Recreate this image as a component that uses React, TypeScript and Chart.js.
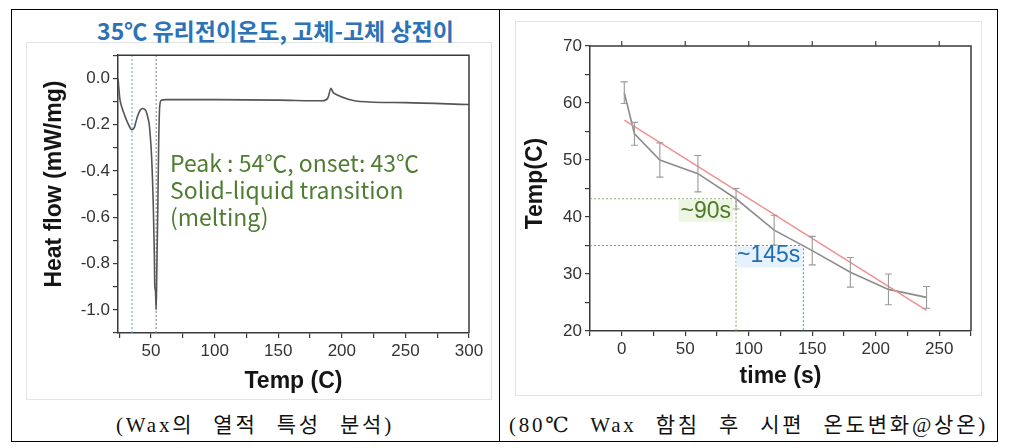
import React, { useEffect, useRef } from 'react';
import { Chart, registerables } from 'chart.js';

Chart.register(...registerables);

// ---------- Left chart: DSC curve ----------
const dscTemp = [24, 25.5, 27, 29, 31, 33, 34.7, 36.8, 38, 39.4, 41.3, 43.4, 45, 46, 47.5, 48.7, 50.5, 51.8, 52.6, 52.9, 53.5, 54, 54.5, 55.3, 56, 56.8, 58, 62, 100, 150, 185, 189, 191.5, 193, 196, 205, 214, 250, 300];
const dscFlow = [0.0, -0.09, -0.125, -0.156, -0.185, -0.208, -0.222, -0.213, -0.19, -0.163, -0.139, -0.13, -0.134, -0.141, -0.17, -0.206, -0.348, -0.56, -0.773, -0.894, -0.92, -1.0, -0.84, -0.56, -0.277, -0.12, -0.095, -0.092, -0.092, -0.094, -0.097, -0.085, -0.043, -0.06, -0.071, -0.09, -0.1, -0.105, -0.113];
const dscGuideTemps = [35, 54];
const dscXRange = [24, 300];
const dscYRange = [-1.1, 0.1];
const dscTitle = '35℃ 유리전이온도, 고체-고체 상전이';
const dscNote = ['Peak : 54℃, onset: 43℃', 'Solid-liquid transition', '(melting)'];
const dscCaption = '(Wax의 열적 특성 분석)';

// ---------- Right chart: cooling curve ----------
const coolTime = [2, 10, 30, 60, 90, 120, 150, 180, 210, 240];
const coolTemp = [61.8, 54.6, 50, 47.6, 43.2, 37.7, 34.1, 30.3, 27.3, 25.9];
const coolErr = [1.9, 2, 3, 3.2, 1.8, 2.6, 2.5, 2.6, 2.7, 1.9];
const fitTime = [2, 240];
const fitTemp = [57.0, 23.6];
const mark90Time = [-25, 90, 90];
const mark90Temp = [43.2, 43.2, 20];
const mark145Time = [-25, 143, 143];
const mark145Temp = [35, 35, 20];
const coolXRange = [-25, 275];
const coolYRange = [20, 70];
const coolTopTicks = [0, 50, 100, 150, 200, 250];
const coolLabels = ['~90s', '~145s'];
const coolCaption = '(80℃ Wax 함침 후 시편 온도변화@상온)';

const SANS = '"Liberation Sans", Arial, sans-serif';
const CJK = '"Noto Sans CJK KR", "Liberation Sans", sans-serif';

function titlesPlugin(id: string, xText: string, yText: string, xCenterY: number, yCenterX: number, yShift: number) {
  return {
    id,
    afterDraw(chart: any) {
      const { ctx, chartArea: a } = chart;
      ctx.save();
      ctx.fillStyle = '#151515';
      ctx.font = `bold 23px ${SANS}`;
      ctx.textAlign = 'center';
      ctx.textBaseline = 'middle';
      ctx.fillText(xText, (a.left + a.right) / 2, xCenterY);
      ctx.translate(yCenterX, (a.top + a.bottom) / 2 + yShift);
      ctx.rotate(-Math.PI / 2);
      ctx.fillText(yText, 0, 0);
      ctx.restore();
    },
  };
}

const framePlugin = {
  id: 'frame',
  afterDraw(chart: any) {
    const { ctx, chartArea: a } = chart;
    ctx.save();
    ctx.strokeStyle = '#3a3a3a';
    ctx.lineWidth = 1.5;
    ctx.beginPath();
    ctx.moveTo(a.left, a.top);
    ctx.lineTo(a.right, a.top);
    ctx.lineTo(a.right, a.bottom);
    ctx.stroke();
    ctx.restore();
  },
};

function axisCommon(extra: any) {
  return {
    type: 'linear',
    border: { display: true, color: '#3a3a3a', width: 1.5 },
    grid: { display: true, drawOnChartArea: false, drawTicks: true, tickLength: 5, color: '#3a3a3a', lineWidth: 1.2 },
    ...extra,
  };
}

function DscChart() {
  const ref = useRef<HTMLCanvasElement>(null);
  useEffect(() => {
    const notePlugin = {
      id: 'note',
      afterDraw(chart: any) {
        const { ctx } = chart;
        ctx.save();
        ctx.fillStyle = '#4f7d32';
        ctx.font = `23px ${CJK}`;
        ctx.textAlign = 'left';
        ctx.textBaseline = 'alphabetic';
        dscNote.forEach((t, i) => ctx.fillText(t, 144, 130 + i * 27));
        ctx.restore();
      },
    };
    const chart = new Chart(ref.current!, {
      type: 'line',
      data: {
        datasets: [
          {
            data: dscTemp.map((t, i) => ({ x: t, y: dscFlow[i] })),
            borderColor: '#555',
            borderWidth: 1.6,
            pointRadius: 0,
            cubicInterpolationMode: 'monotone',
            order: 0,
          },
          {
            data: [{ x: dscGuideTemps[0], y: dscYRange[0] }, { x: dscGuideTemps[0], y: dscYRange[1] }],
            borderColor: '#6ea6dc',
            borderWidth: 1.1,
            borderDash: [2, 2],
            pointRadius: 0,
            order: 1,
          },
          {
            data: [{ x: dscGuideTemps[1], y: dscYRange[0] }, { x: dscGuideTemps[1], y: dscYRange[1] }],
            borderColor: '#8a8a8a',
            borderWidth: 1.1,
            borderDash: [2, 2],
            pointRadius: 0,
            order: 2,
          },
        ],
      },
      options: {
        responsive: false,
        animation: false,
        devicePixelRatio: 1,
        layout: { padding: { left: 0, top: 10, right: 23, bottom: 0 } },
        plugins: { legend: { display: false }, tooltip: { enabled: false } },
        scales: {
          x: axisCommon({
            min: dscXRange[0],
            max: dscXRange[1],
            afterFit: (s: any) => { s.height = 67; },
            ticks: {
              stepSize: 25,
              includeBounds: false,
              autoSkip: false,
              maxRotation: 0,
              padding: 3,
              color: '#333',
              font: { family: SANS, size: 17 },
              callback: (v: any) => (Math.round(v) % 50 === 0 ? String(Math.round(v)) : ''),
            },
          }),
          y: axisCommon({
            min: dscYRange[0],
            max: dscYRange[1],
            afterFit: (s: any) => { s.width = 92; },
            ticks: {
              stepSize: 0.1,
              autoSkip: false,
              padding: 3,
              color: '#333',
              font: { family: SANS, size: 17 },
              callback: (v: any) => {
                const k = Math.round(v * 10);
                return k % 2 === 0 && k <= 0 ? (k / 10).toFixed(1) : '';
              },
            },
          }),
        },
      } as any,
      plugins: [framePlugin, notePlugin, titlesPlugin('dscTitles', 'Temp (C)', 'Heat flow (mW/mg)', 340, 29, -10)] as any,
    });
    return () => chart.destroy();
  }, []);
  return <canvas ref={ref} width={466} height={358} style={{ position: 'absolute', left: 26, top: 42 }} />;
}

function CoolChart() {
  const ref = useRef<HTMLCanvasElement>(null);
  useEffect(() => {
    const extras = {
      id: 'coolExtras',
      afterDatasetsDraw(chart: any) {
        const { ctx, scales } = chart;
        const xs = scales.x, ys = scales.y;
        ctx.save();
        ctx.strokeStyle = '#9a9a9a';
        ctx.lineWidth = 1.1;
        coolTime.forEach((t, i) => {
          const x = xs.getPixelForValue(t);
          const y1 = ys.getPixelForValue(coolTemp[i] + coolErr[i]);
          const y2 = ys.getPixelForValue(coolTemp[i] - coolErr[i]);
          ctx.beginPath();
          ctx.moveTo(x, y1); ctx.lineTo(x, y2);
          ctx.moveTo(x - 3.5, y1); ctx.lineTo(x + 3.5, y1);
          ctx.moveTo(x - 3.5, y2); ctx.lineTo(x + 3.5, y2);
          ctx.stroke();
        });
        ctx.restore();
      },
      afterDraw(chart: any) {
        const { ctx, scales, chartArea: a } = chart;
        const xs = scales.x, ys = scales.y;
        ctx.save();
        ctx.strokeStyle = '#3a3a3a';
        ctx.lineWidth = 1.2;
        ctx.beginPath();
        coolTopTicks.forEach((v) => {
          const x = xs.getPixelForValue(v);
          ctx.moveTo(x, a.top); ctx.lineTo(x, a.top - 5);
        });
        ctx.stroke();
        // labels
        ctx.font = `23px ${SANS}`;
        ctx.textBaseline = 'middle';
        const x90 = xs.getPixelForValue(mark90Time[1]);
        const y90 = ys.getPixelForValue(mark90Temp[0]);
        const w90 = ctx.measureText(coolLabels[0]).width;
        ctx.fillStyle = 'rgba(232,242,218,0.75)';
        ctx.fillRect(x90 - 5 - w90 - 2, y90 + 1, w90 + 4, 22);
        ctx.fillStyle = '#4d7a2b';
        ctx.textAlign = 'right';
        ctx.fillText(coolLabels[0], x90 - 5, y90 + 13);
        const y145 = ys.getPixelForValue(mark145Temp[0]);
        const w145 = ctx.measureText(coolLabels[1]).width;
        ctx.fillStyle = 'rgba(222,238,250,0.75)';
        ctx.fillRect(x90, y145 + 1, w145 + 3, 21);
        ctx.fillStyle = '#1f6db3';
        ctx.textAlign = 'left';
        ctx.fillText(coolLabels[1], x90 + 1, y145 + 10);
        ctx.restore();
      },
    };
    const chart = new Chart(ref.current!, {
      type: 'line',
      data: {
        datasets: [
          {
            data: fitTime.map((t, i) => ({ x: t, y: fitTemp[i] })),
            borderColor: '#f09090',
            borderWidth: 1.5,
            pointRadius: 0,
            order: 0,
          },
          {
            data: coolTime.map((t, i) => ({ x: t, y: coolTemp[i] })),
            borderColor: '#8c8c8c',
            borderWidth: 1.6,
            pointRadius: 0,
            order: 1,
          },
          {
            data: mark90Time.map((t, i) => ({ x: t, y: mark90Temp[i] })),
            borderColor: '#8fae72',
            borderWidth: 1.2,
            borderDash: [2, 2],
            pointRadius: 0,
            order: 2,
          },
          {
            data: mark145Time.map((t, i) => ({ x: t, y: mark145Temp[i] })),
            borderColor: '#5e9fd6',
            borderWidth: 1.2,
            borderDash: [2, 2],
            pointRadius: 0,
            order: 3,
          },
        ],
      },
      options: {
        responsive: false,
        animation: false,
        devicePixelRatio: 1,
        layout: { padding: { left: 0, top: 25, right: 11, bottom: 0 } },
        plugins: { legend: { display: false }, tooltip: { enabled: false } },
        scales: {
          x: axisCommon({
            min: coolXRange[0],
            max: coolXRange[1],
            afterFit: (s: any) => { s.height = 65; },
            ticks: {
              stepSize: 25,
              autoSkip: false,
              maxRotation: 0,
              padding: 3,
              color: '#333',
              font: { family: SANS, size: 17 },
              callback: (v: any) => {
                const r = Math.round(v);
                return r % 50 === 0 && r >= 0 ? String(r) : '';
              },
            },
          }),
          y: axisCommon({
            min: coolYRange[0],
            max: coolYRange[1],
            afterFit: (s: any) => { s.width = 75; },
            ticks: {
              stepSize: 5,
              autoSkip: false,
              padding: 3,
              color: '#333',
              font: { family: SANS, size: 17 },
              callback: (v: any) => (Math.round(v) % 10 === 0 ? String(Math.round(v)) : ''),
            },
          }),
        },
      } as any,
      plugins: [framePlugin, extras, titlesPlugin('coolTitles', 'time (s)', 'Temp(C)', 356, 21, -5)] as any,
    });
    return () => chart.destroy();
  }, []);
  return <canvas ref={ref} width={467} height={375} style={{ position: 'absolute', left: 515, top: 21 }} />;
}

const captionStyle: React.CSSProperties = {
  position: 'absolute',
  top: 411,
  height: 28,
  lineHeight: '28px',
  textAlign: 'center',
  fontFamily: '"Liberation Serif", "DejaVu Serif", "Noto Sans CJK KR", serif',
  fontSize: 21,
  letterSpacing: 2.8,
  wordSpacing: 11,
  color: '#111',
  whiteSpace: 'nowrap',
};

export default function App() {
  return (
    <div style={{ position: 'absolute', left: 0, top: 0, width: 1010, height: 448, background: '#fff', overflow: 'hidden' }}>
      <div style={{ position: 'absolute', left: 11, top: 9, width: 987, height: 433, border: '1px solid #000', boxSizing: 'border-box' }} />
      <div style={{ position: 'absolute', left: 499, top: 9, width: 1, height: 433, background: '#000' }} />
      <div style={{ position: 'absolute', left: 26, top: 42, width: 466, height: 358, border: '1px solid #e4e4e4', boxSizing: 'border-box' }} />
      <div style={{ position: 'absolute', left: 515, top: 21, width: 467, height: 375, border: '1px solid #e4e4e4', boxSizing: 'border-box' }} />
      <div
        style={{
          position: 'absolute', left: 0, top: 16, width: 551, height: 28, lineHeight: '28px', textAlign: 'center',
          fontFamily: CJK, fontWeight: 700, fontSize: 23, color: '#2d72b6', whiteSpace: 'nowrap',
        }}
      >
        {dscTitle}
      </div>
      <DscChart />
      <CoolChart />
      <div style={{ ...captionStyle, left: 11, width: 488 }}>{dscCaption}</div>
      <div style={{ ...captionStyle, left: 499, width: 499 }}>{coolCaption}</div>
    </div>
  );
}
